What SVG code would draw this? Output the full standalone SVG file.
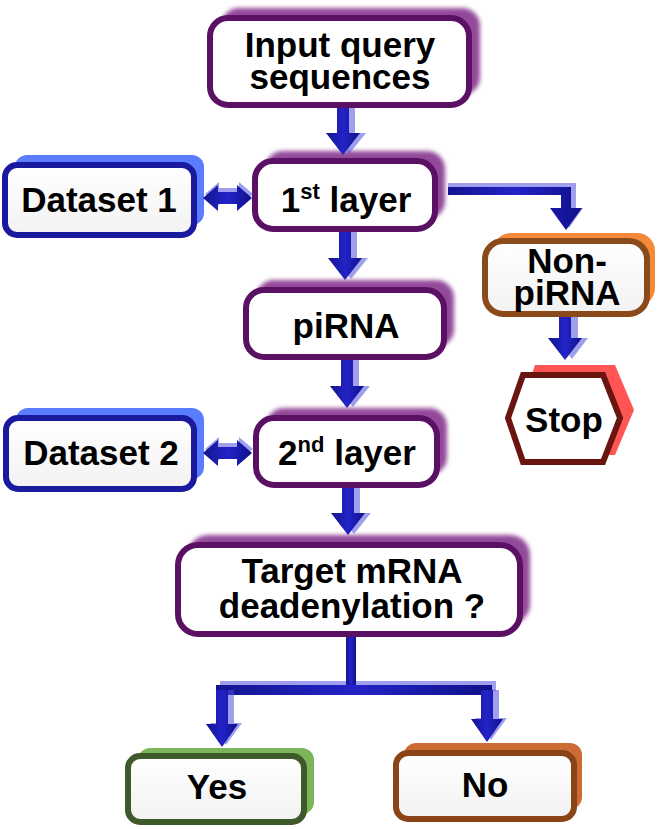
<svg xmlns="http://www.w3.org/2000/svg" width="660" height="829" viewBox="0 0 660 829">
<defs>
<filter id="blur" x="-10%" y="-20%" width="120%" height="140%"><feGaussianBlur stdDeviation="2"/></filter>
<linearGradient id="gfill" x1="0" y1="0" x2="0" y2="1"><stop offset="0" stop-color="#ffffff"/><stop offset="1" stop-color="#f2f2f2"/></linearGradient>
<linearGradient id="arr" x1="0" y1="0" x2="1" y2="0"><stop offset="0" stop-color="#14148f"/><stop offset="0.5" stop-color="#2323c8"/><stop offset="1" stop-color="#10108a"/></linearGradient>
</defs>
<style>
.t{font-family:"Liberation Sans",Arial,sans-serif;font-weight:bold;font-size:35px;fill:#000;text-anchor:middle}
.pb{fill:#fff;stroke:#5b1163;stroke-width:6}
.ps{fill:#93489a;filter:url(#blur)}
.db{fill:url(#gfill);stroke:#1a1a9e;stroke-width:6}
.ds{fill:#5a7cff}
.a{fill:url(#arr)}
.as{fill:#5050e0;opacity:0.55}
</style>

<g id="input">
<rect class="ps" x="221" y="8" width="259" height="87" rx="18"/>
<rect class="pb" x="210" y="18" width="259" height="87" rx="18"/>
<text class="t" x="340" y="57">Input query</text>
<text class="t" x="340" y="89">sequences</text>
</g>

<g id="layer1">
<rect class="ps" x="265" y="151" width="180" height="68" rx="18"/>
<rect class="pb" x="255" y="161" width="180" height="68" rx="18"/>
<text class="t" x="346" y="212">1<tspan font-size="22" dy="-13">st</tspan><tspan dy="13"> layer</tspan></text>
</g>

<g id="dataset1">
<rect class="ds" x="15" y="155" width="189" height="70" rx="12"/>
<rect class="db" x="5" y="165" width="189" height="70" rx="12"/>
<text class="t" x="99" y="212">Dataset 1</text>
</g>

<g id="nonpirna">
<rect fill="#f5893a" x="493" y="233" width="162" height="73" rx="18"/>
<rect fill="url(#gfill)" stroke="#8b4a1a" stroke-width="6" x="485" y="241" width="162" height="73" rx="18"/>
<text class="t" x="567" y="273">Non-</text>
<text class="t" x="567" y="305">piRNA</text>
</g>

<g id="stop">
<polygon fill="#ff5555" points="520,410 535,365 615,365 634,410 615,455 535,455"/>
<polygon fill="#fff" stroke="#6b1510" stroke-width="6" points="508,418 523,375 603,375 620,418 603,462 523,462"/>
<text class="t" x="564" y="432">Stop</text>
</g>

<g id="pirna">
<rect class="ps" x="256" y="280" width="198" height="67" rx="18"/>
<rect class="pb" x="246" y="290" width="198" height="67" rx="18"/>
<text class="t" x="346" y="338">piRNA</text>
</g>

<g id="layer2">
<rect class="ps" x="266" y="408" width="181" height="67" rx="18"/>
<rect class="pb" x="256" y="418" width="181" height="67" rx="18"/>
<text class="t" x="347" y="465">2<tspan font-size="22" dy="-13">nd</tspan><tspan dy="13"> layer</tspan></text>
</g>

<g id="dataset2">
<rect class="ds" x="16" y="408" width="188" height="71" rx="12"/>
<rect class="db" x="6" y="418" width="188" height="71" rx="12"/>
<text class="t" x="101" y="465">Dataset 2</text>
</g>

<g id="target">
<rect class="ps" x="188" y="535" width="342" height="89" rx="20"/>
<rect class="pb" x="178" y="545" width="342" height="89" rx="20"/>
<text class="t" x="352" y="583">Target mRNA</text>
<text class="t" x="352" y="618">deadenylation ?</text>
</g>

<g id="yes">
<rect fill="#7db55a" x="138" y="748" width="176" height="66" rx="12"/>
<rect fill="url(#gfill)" stroke="#3e5a2a" stroke-width="6" x="128" y="756" width="176" height="66" rx="12"/>
<text class="t" x="217" y="799">Yes</text>
</g>

<g id="no">
<rect fill="#cc6b33" x="404" y="743" width="178" height="66" rx="12"/>
<rect fill="url(#gfill)" stroke="#8a4418" stroke-width="6" x="396" y="753" width="178" height="66" rx="12"/>
<text class="t" x="485" y="797">No</text>
</g>

<g id="connectors">
<!-- input -> layer1 -->
<polygon class="as" points="343,108 355,108 355,133 366,133 349,154 332,133 343,133"/>
<polygon class="a" points="337,108 349,108 349,133 360,133 343,155 326,133 337,133"/>
<!-- layer1 -> piRNA -->
<polygon class="as" points="345,232 357,232 357,258 368,258 351,279 334,258 345,258"/>
<polygon class="a" points="339,232 351,232 351,258 362,258 345,280 328,258 339,258"/>
<!-- piRNA -> layer2 -->
<polygon class="as" points="347,360 359,360 359,386 370,386 353,407 336,386 347,386"/>
<polygon class="a" points="341,360 353,360 353,386 364,386 347,408 330,386 341,386"/>
<!-- layer2 -> target -->
<polygon class="as" points="348,488 360,488 360,513 371,513 354,534 337,513 348,513"/>
<polygon class="a" points="342,488 354,488 354,513 365,513 348,535 331,513 342,513"/>
<!-- layer1 -> nonpiRNA elbow -->
<polygon class="as" points="448,183 576,183 576,208 583,208 569,228 555,208 562,208 562,191 448,191"/>
<polygon class="a" points="448,187 571,187 571,208 582,208 566,230 550,208 561,208 561,195 448,195"/>
<!-- nonpiRNA -> stop -->
<polygon class="as" points="566,317 578,317 578,338 588,338 572,359 556,338 566,338"/>
<polygon class="a" points="559,317 571,317 571,338 582,338 565,360 548,338 559,338"/>
<!-- dataset1 <-> layer1 -->
<polygon class="as" points="205,194 219,182 219,188 239,188 239,182 253,194 239,206 239,200 219,200 219,206"/>
<polygon class="a" points="203,198 218,185 218,192 237,192 237,185 252,198 237,211 237,204 218,204 218,211"/>
<!-- dataset2 <-> layer2 -->
<polygon class="as" points="205,449 219,437 219,443 239,443 239,437 253,449 239,461 239,455 219,455 219,461"/>
<polygon class="a" points="203,453 218,440 218,447 237,447 237,440 252,453 237,466 237,459 218,459 218,466"/>
<!-- target -> yes/no -->
<rect class="as" x="220" y="681" width="276" height="10"/>
<rect class="a" x="346" y="637" width="10" height="53"/>
<rect class="a" x="216" y="685" width="276" height="10"/>
<polygon class="as" points="222,690 234,690 234,723 242,723 226,745 210,723 218,723"/>
<polygon class="a" points="216,690 228,690 228,724 238,724 222,747 206,724 216,724"/>
<polygon class="as" points="487,690 499,690 499,718 507,718 491,740 475,718 483,718"/>
<polygon class="a" points="481,690 493,690 493,719 503,719 487,742 471,719 481,719"/>
</g>
</svg>
